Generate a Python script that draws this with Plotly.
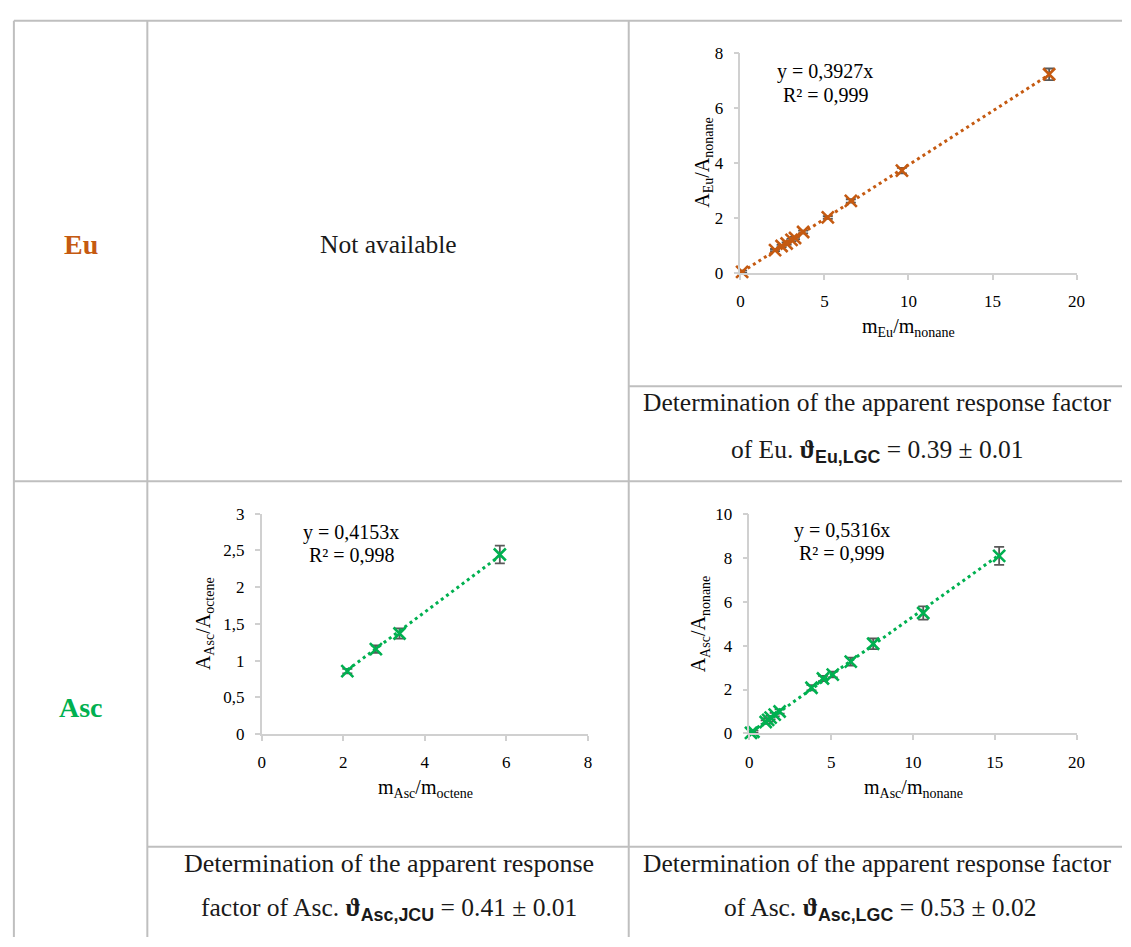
import plotly.graph_objects as go

W, H = 1131, 947
FONT = "Liberation Serif"
ORANGE = "#C55A11"
GREEN = "#00B050"
ERRC = "#595959"
AXISC = "#D0D0D0"
TABLEC = "#BFBFBF"

# ---- data ----
eu_x = [0.10, 2.06, 2.45, 2.75, 3.04, 3.25, 3.73, 5.20, 6.57, 9.61, 18.37]
eu_y = [0.04, 0.83, 0.98, 1.07, 1.20, 1.27, 1.49, 2.02, 2.62, 3.72, 7.23]
eu_err = [0.04, 0.04, 0.04, 0.04, 0.04, 0.04, 0.05, 0.05, 0.06, 0.10, 0.21]
eu_slope = 0.3927
eu_r2 = 0.999

jcu_x = [2.10, 2.80, 3.38, 5.84]
jcu_y = [0.857, 1.156, 1.369, 2.444]
jcu_err = [0.03, 0.05, 0.07, 0.12]
jcu_slope = 0.4153
jcu_r2 = 0.998

lgc_x = [0.10, 0.25, 1.00, 1.15, 1.30, 1.55, 1.85, 3.80, 4.50, 5.10, 6.20, 7.57, 10.63, 15.27]
lgc_y = [0.03, 0.08, 0.52, 0.62, 0.72, 0.86, 1.00, 2.08, 2.50, 2.68, 3.27, 4.08, 5.48, 8.08]
lgc_err = [0.05, 0.05, 0.08, 0.08, 0.08, 0.08, 0.10, 0.12, 0.12, 0.13, 0.18, 0.24, 0.30, 0.41]
lgc_slope = 0.5316
lgc_r2 = 0.999


def px(x):
    return min(max(x / W, 0), 1)


def py(y):
    return min(max(1 - y / H, 0), 1)


fig = go.Figure()
annotations = []


def add_chart(i, xs, ys, errs, slope, r2, color, xr, xd, yr, yd, xdom, ydom,
              xtitle, ytitle, xt_pos, yt_pos, eq_pos, r2_pos):
    xa = "x" if i == 1 else f"x{i}"
    ya = "y" if i == 1 else f"y{i}"
    lx = [min(xs), max(xs)]
    fig.add_trace(go.Scatter(
        x=xs, y=ys, mode="markers", xaxis=xa, yaxis=ya, cliponaxis=False,
        marker=dict(symbol="x-thin", size=12, color=color,
                    line=dict(color=color, width=2.6)),
        error_y=dict(type="data", array=errs, visible=True, color=ERRC,
                     thickness=1.8, width=5),
    ))
    fig.add_trace(go.Scatter(
        x=lx, y=[slope * v for v in lx], mode="lines", xaxis=xa, yaxis=ya,
        cliponaxis=False,
        line=dict(color=color, width=3, dash="3px,3.5px"),
    ))
    common = dict(showline=True, linecolor=AXISC, linewidth=1.5, ticks="outside",
                  ticklen=5, tickwidth=1.5, tickcolor=AXISC, showgrid=False,
                  zeroline=False, tickfont=dict(family=FONT, size=17, color="#000"),
                  ticklabelstandoff=7, tick0=0, fixedrange=True)
    fig.layout[("xaxis" if i == 1 else f"xaxis{i}")] = dict(
        domain=[px(xdom[0]), px(xdom[1])], range=xr, dtick=xd, anchor=ya, **common)
    fig.layout[("yaxis" if i == 1 else f"yaxis{i}")] = dict(
        domain=[py(ydom[1]), py(ydom[0])], range=yr, dtick=yd, anchor=xa, **common)
    annotations.append(dict(x=px(xt_pos[0]), y=py(xt_pos[1]), text=xtitle, size=20))
    annotations.append(dict(x=px(yt_pos[0]), y=py(yt_pos[1]), text=ytitle, textangle=-90, size=20))
    annotations.append(dict(x=px(eq_pos[0]), y=py(eq_pos[1]), size=20,
                            text=("y = %.4fx" % slope).replace(".", ",")))
    annotations.append(dict(x=px(r2_pos[0]), y=py(r2_pos[1]), size=20,
                            text=("R² = %.3f" % r2).replace(".", ",")))


add_chart(1, eu_x, eu_y, eu_err, eu_slope, eu_r2, ORANGE, [0, 20], 5, [0, 8], 2,
          (745, 1085), (45, 269.3),
          "m<sub>Eu</sub>/m<sub>nonane</sub>", "A<sub>Eu</sub>/A<sub>nonane</sub>",
          (915, 325), (708, 157), (831, 64), (831.5, 87.5))
add_chart(2, jcu_x, jcu_y, jcu_err, jcu_slope, jcu_r2, GREEN, [0, 8], 2, [0, 3], 0.5,
          (260.7, 590.7), (515, 740),
          "m<sub>Asc</sub>/m<sub>octene</sub>", "A<sub>Asc</sub>/A<sub>octene</sub>",
          (426, 795), (203, 627), (351, 534), (351.7, 557))
add_chart(3, lgc_x, lgc_y, lgc_err, lgc_slope, lgc_r2, GREEN, [0, 20], 5, [0, 10], 2,
          (754, 1085), (515, 739.3),
          "m<sub>Asc</sub>/m<sub>nonane</sub>", "A<sub>Asc</sub>/A<sub>nonane</sub>",
          (920, 795), (704, 627), (848, 532), (848, 555.5))

for a in annotations:
    s = a.pop("size")
    a.update(xref="paper", yref="paper", showarrow=False, xanchor="center",
             yanchor="middle", font=dict(family=FONT, size=s, color="#000"))

SUB = "<sub><span style='font-family:Liberation Sans'><b>%s</b></span></sub>"


def cap(x, y, text, size=25.5, color="#1a1a1a"):
    annotations.append(dict(x=px(x), y=py(y), xref="paper", yref="paper", text=text,
                            showarrow=False, xanchor="center", yanchor="middle",
                            font=dict(family=FONT, size=size, color=color)))


cap(78, 240, "<b>Eu</b>", 28, ORANGE)
cap(78, 713, "<b>Asc</b>", 28, GREEN)
cap(389, 240, "Not available")
cap(884, 402, "Determination of the apparent response factor")
cap(884, 451, "of Eu. <b>ϑ</b>" + SUB % "Eu,LGC" + " = 0.39 ± 0.01")
cap(389, 872, "Determination of the apparent response", 26)
cap(389, 918, "factor of Asc. <b>ϑ</b>" + SUB % "Asc,JCU" + " = 0.41 ± 0.01")
cap(884, 872, "Determination of the apparent response factor")
cap(886, 918, "of Asc. <b>ϑ</b>" + SUB % "Asc,LGC" + " = 0.53 ± 0.02")

shapes = []


def hline(y, x0, x1):
    shapes.append(dict(type="line", xref="paper", yref="paper", x0=px(x0), x1=px(x1),
                       y0=py(y), y1=py(y), line=dict(color=TABLEC, width=2)))


def vline(x, y0, y1):
    shapes.append(dict(type="line", xref="paper", yref="paper", x0=px(x), x1=px(x),
                       y0=py(y0), y1=py(y1), line=dict(color=TABLEC, width=2)))


hline(12, 10, W)
hline(385, 632, W)
hline(482, 10, W)
hline(855, 145, W)
vline(10, 12, H)
vline(145, 12, H)
vline(632, 12, H)

fig.update_layout(width=W, height=H, margin=dict(l=0, r=0, t=0, b=0),
                  paper_bgcolor="white", plot_bgcolor="white", showlegend=False,
                  separators=", ", annotations=annotations, shapes=shapes)

fig.write_html("out.html", config={"displayModeBar": False},
               post_script="document.documentElement.style.margin='0px';"
                           "document.body.style.margin='0px';"
                           "document.body.style.padding='0px';"
                           "document.documentElement.style.overflow='hidden';")
